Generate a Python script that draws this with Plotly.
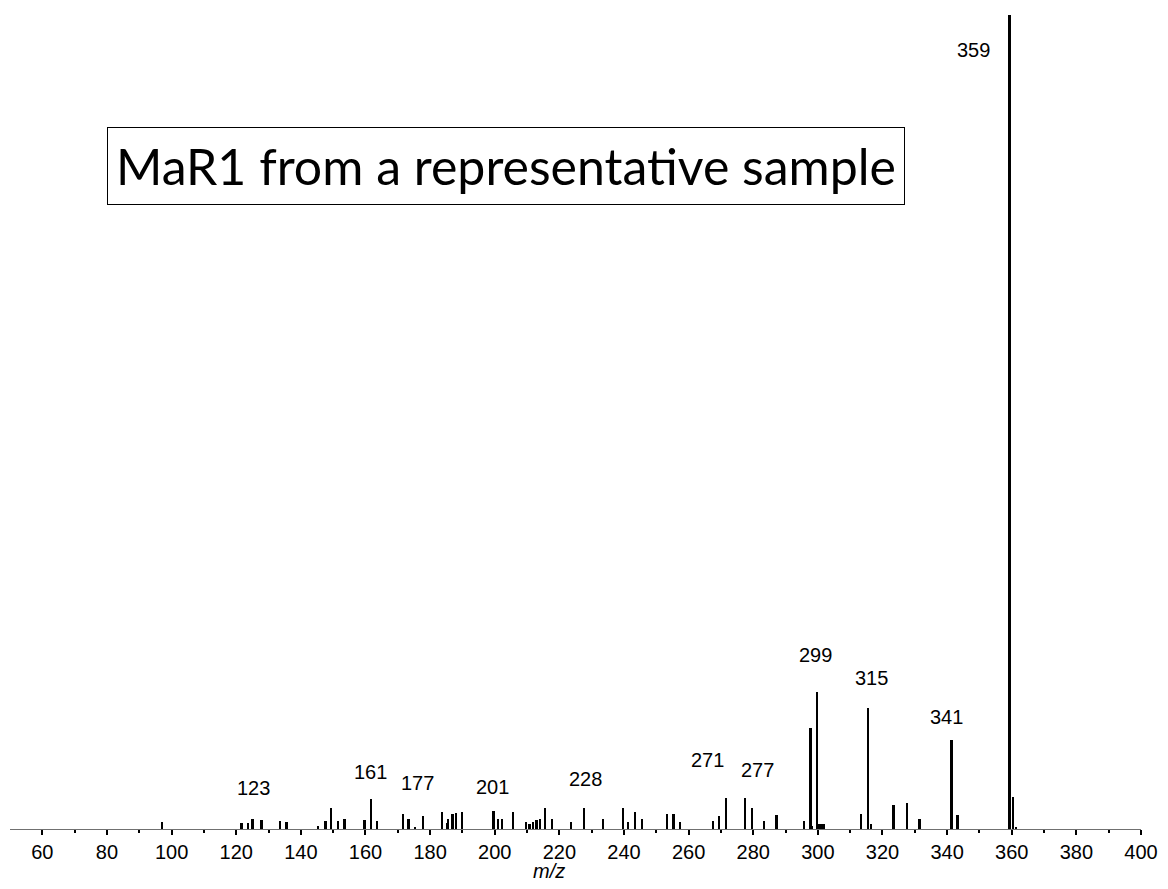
import plotly.graph_objects as go

# m/z positions and relative intensities (% of base peak 359)
mz = [97.2, 121.7, 123.8, 125.1, 127.9, 133.6, 135.6, 145.4, 147.7, 149.5, 151.5, 153.6,
      159.8, 161.7, 163.7, 171.6, 173.4, 175.5, 177.8, 183.8, 185.2, 185.7, 187.0, 188.2,
      189.9, 199.7, 201.1, 202.4, 205.8, 209.7, 210.8, 211.9, 213.0, 214.1, 215.7, 217.7,
      223.7, 227.7, 233.6, 239.8, 241.4, 243.5, 245.7, 253.4, 255.4, 257.5, 267.6, 269.5,
      271.7, 277.5, 279.6, 283.5, 287.3, 295.7, 297.8, 298.3, 299.7, 300.6, 301.2, 301.9,
      313.5, 315.5, 316.5, 323.5, 327.6, 331.5, 341.4, 343.3, 359.4, 360.4, 361.4]
intensity = [0.8, 0.74, 0.7, 1.23, 1.1, 1.02, 0.86, 0.33, 0.95, 2.54, 0.95, 1.23,
             1.1, 3.69, 0.95, 1.9, 1.23, 0.25, 1.6, 2.03, 0.68, 1.29, 1.84, 1.97,
             2.09, 2.21, 1.23, 1.17, 2.15, 0.8, 0.61, 0.86, 1.1, 1.23, 2.64, 1.17,
             0.8, 2.64, 1.23, 2.52, 0.8, 2.09, 1.29, 1.84, 1.9, 0.86, 0.98, 1.56,
             3.81, 3.81, 2.58, 0.98, 1.66, 0.98, 12.4, 0.37, 16.83, 0.61, 0.61, 0.61,
             1.84, 14.86, 0.61, 2.89, 3.19, 1.23, 10.93, 1.66, 100.0, 3.93, 0.25]

# peak labels
label_text = ["123", "161", "177", "201", "228", "271", "277", "299", "315", "341", "359"]
label_x = [125.2, 161.6, 176.0, 199.4, 228.2, 265.8, 281.4, 299.2, 316.5, 339.8, 348.3]
label_y = [5.0, 7.0, 5.6, 5.2, 6.2, 8.5, 7.25, 21.4, 18.5, 13.7, 95.7]

x_ticks = list(range(60, 401, 20))
x_minor = list(range(70, 400, 20))

fig = go.Figure()
fig.add_trace(go.Bar(x=mz, y=intensity, width=0.55, marker=dict(color="black", line=dict(width=0)),
                     showlegend=False))

for t, x, y in zip(label_text, label_x, label_y):
    fig.add_annotation(x=x, y=y, xref="x", yref="y", text=t, showarrow=False,
                       font=dict(family="Liberation Sans, Arial", size=20, color="black"),
                       xanchor="center", yanchor="middle")

fig.add_annotation(xref="paper", yref="paper", x=0.477, y=0, yshift=-42, text="<i>m/z</i>",
                   showarrow=False, font=dict(family="Liberation Sans, Arial", size=20, color="black"),
                   xanchor="center", yanchor="middle")

fig.add_annotation(xref="paper", yref="paper", x=(107 - 10) / 1134, y=(829 - 127) / 814,
                   xanchor="left", yanchor="top", text="MaR1 from a representative sample",
                   showarrow=False, font=dict(family="Lato", size=50, color="black"),
                   bordercolor="black", borderwidth=1, borderpad=8, bgcolor="white")

fig.update_layout(
    width=1168, height=889,
    margin=dict(l=10, r=24, t=15, b=60),
    paper_bgcolor="white", plot_bgcolor="white",
    bargap=0,
    xaxis=dict(range=[50, 400], tickvals=x_ticks, ticks="outside", ticklen=5, tickwidth=2,
               tickcolor="black", showline=True, linecolor="#707070", linewidth=1,
               showgrid=False, zeroline=False,
               tickfont=dict(family="Liberation Sans, Arial", size=20, color="black"),
               minor=dict(tickmode="array", tickvals=x_minor, ticks="outside", ticklen=3,
                          tickwidth=2, tickcolor="black")),
    yaxis=dict(range=[0, 100], visible=False, showgrid=False, zeroline=False),
)

fig.write_html("out.html")
